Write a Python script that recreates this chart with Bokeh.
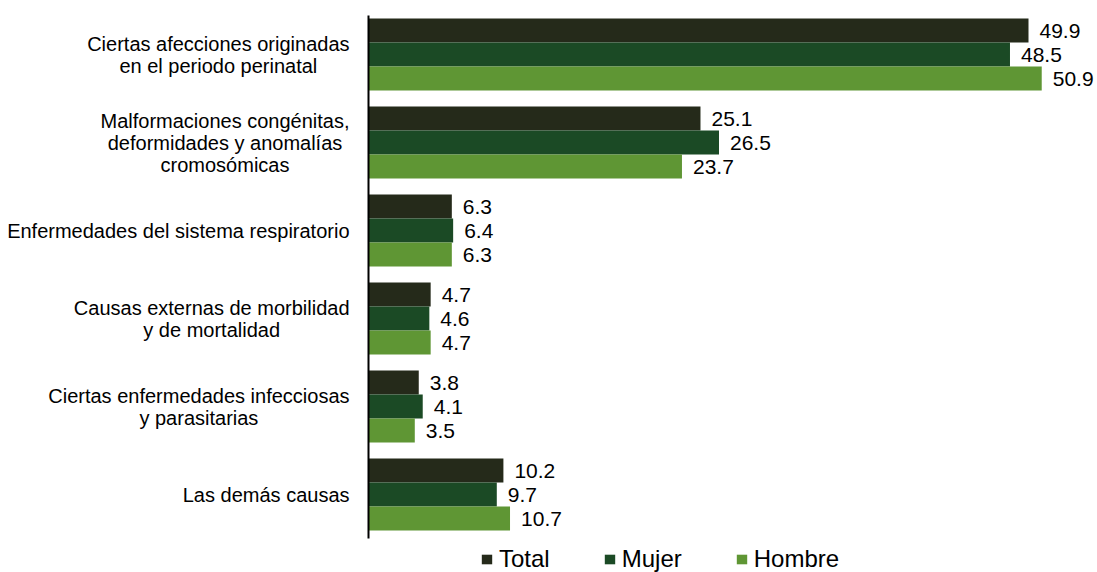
from bokeh.plotting import figure
from bokeh.models import ColumnDataSource, Legend, LegendItem, Range1d
from bokeh.core.properties import value
from bokeh.embed import file_html
from bokeh.resources import INLINE

# ---- data ----
categories = [
    "Ciertas afecciones originadas\nen el periodo perinatal",
    "Malformaciones congénitas,\ndeformidades y anomalías\ncromosómicas",
    "Enfermedades del sistema respiratorio",
    "Causas externas de morbilidad\ny de mortalidad",
    "Ciertas enfermedades infecciosas\ny parasitarias",
    "Las demás causas",
]
series_names = ["Total", "Mujer", "Hombre"]
total = [49.9, 25.1, 6.3, 4.7, 3.8, 10.2]
mujer = [48.5, 26.5, 6.4, 4.6, 4.1, 9.7]
hombre = [50.9, 23.7, 6.3, 4.7, 3.5, 10.7]
colors = ["#252a1a", "#1b4a25", "#5f9634"]

# ---- layout constants ----
FONT = "Liberation Sans"
W, H = 1097, 572
TOP_BORDER = 10
PX_PER_UNIT = 660 / 49.9          # horizontal scale
AXIS_PX = 368                     # axis position from frame left
CAT_PX = 88                       # px per category
BAR_PX = 24                       # bar thickness
TOP_PX = 44                       # from frame top to first category centre
FRAME_H = H - TOP_BORDER

x_start = -AXIS_PX / PX_PER_UNIT
x_end = (W - AXIS_PX) / PX_PER_UNIT
y_end = TOP_PX / CAT_PX
y_start = y_end - FRAME_H / CAT_PX

p = figure(width=W, height=H, output_backend="svg", toolbar_location=None,
           x_range=Range1d(x_start, x_end), y_range=Range1d(y_start, y_end),
           min_border_left=0, min_border_right=0, min_border_top=TOP_BORDER, min_border_bottom=0)
p.xaxis.visible = False
p.yaxis.visible = False
p.grid.visible = False
p.outline_line_color = None
p.background_fill_color = None
p.border_fill_color = None

bar_h = BAR_PX / CAT_PX
renderers = []
for k, (name, vals, col) in enumerate(zip(series_names, [total, mujer, hombre], colors)):
    ys = [-i + (1 - k) * bar_h for i in range(len(categories))]
    src = ColumnDataSource(dict(y=ys, v=vals, lab=["%.1f" % v for v in vals]))
    r = p.hbar(y="y", right="v", left=0, height=bar_h, source=src,
               fill_color=col, line_color=None)
    renderers.append(r)
    p.text(x="v", y="y", text="lab", source=src, x_offset=11,
           text_baseline="middle", text_align="left",
           text_font=value(FONT), text_font_size="21px", text_color="#000000")

# axis line
p.segment(x0=[0], y0=[y_end - 5 / CAT_PX], x1=[0], y1=[-5.5],
          line_color="#000000", line_width=2)

# category labels (block right-aligned, lines centred)
AW = {'a':556,'b':556,'c':500,'d':556,'e':556,'f':278,'g':556,'h':556,'i':222,'j':222,
      'k':500,'l':222,'m':833,'n':556,'o':556,'p':556,'q':556,'r':333,'s':500,'t':278,
      'u':556,'v':500,'w':722,'x':500,'y':500,'z':500,' ':278,',':278,'.':278,
      'C':722,'M':833,'E':667,'L':556,'é':556,'í':278,'ó':556,'á':556}
LBL_SIZE = 20
LINE_PX = 22
RIGHT_PX = -19

def tw(s):
    return sum(AW.get(ch, 556) for ch in s) / 1000 * LBL_SIZE

lx, ly, lt = [], [], []
for i, cat in enumerate(categories):
    lines = cat.split("\n")
    maxw = max(tw(s) for s in lines)
    cx = (RIGHT_PX - maxw / 2) / PX_PER_UNIT
    n = len(lines)
    for j, s in enumerate(lines):
        lx.append(cx)
        ly.append(-i - (j - (n - 1) / 2) * LINE_PX / CAT_PX)
        lt.append(s)
p.text(x=lx, y=ly, text=lt, text_align="center", text_baseline="middle",
       text_font=value(FONT), text_font_size="%dpx" % LBL_SIZE, text_color="#000000")

legend = Legend(items=[LegendItem(label=n, renderers=[r]) for n, r in zip(series_names, renderers)],
                orientation="horizontal", location=(480, -1))
legend.padding = 0
legend.margin = 0
legend.border_line_color = None
legend.background_fill_alpha = 0
legend.glyph_width = 13
legend.glyph_height = 12
legend.label_standoff = 6
legend.spacing = 53
legend.label_text_font = FONT
legend.label_text_font_size = "24px"
legend.label_text_color = "#000000"
legend.label_height = 24
p.add_layout(legend)

open("out.html", "w").write(file_html(p, INLINE))
